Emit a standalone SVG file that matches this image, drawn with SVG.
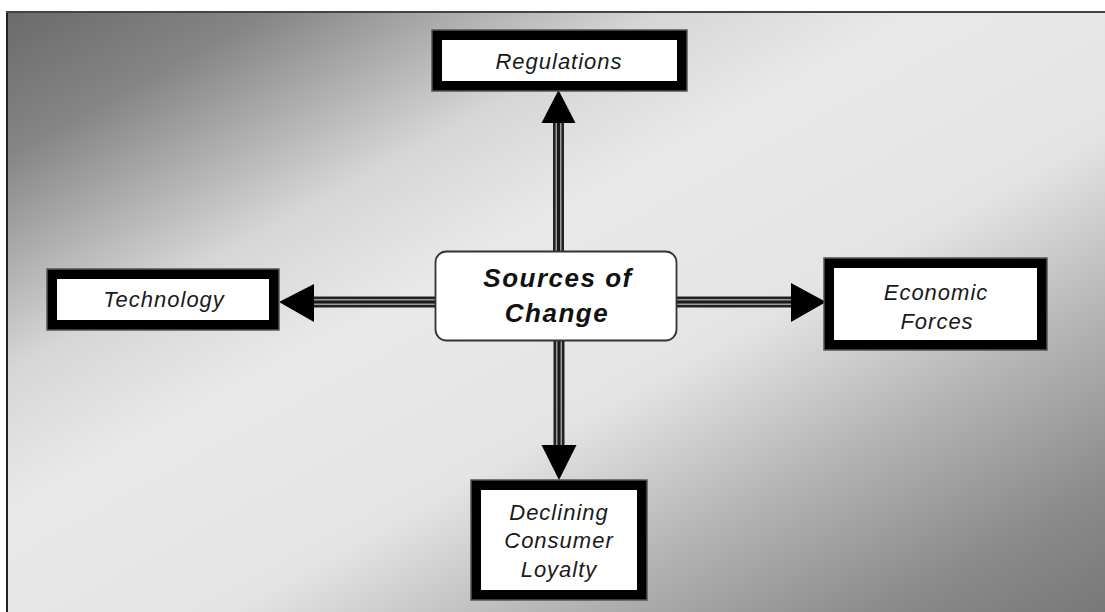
<svg xmlns="http://www.w3.org/2000/svg" width="1105" height="612" viewBox="0 0 1105 612">
  <defs>
    <linearGradient id="bg" x1="0" y1="0" x2="1" y2="1">
      <stop offset="0" stop-color="#6a6a6a"/>
      <stop offset="0.12" stop-color="#858585"/>
      <stop offset="0.3" stop-color="#d6d6d6"/>
      <stop offset="0.42" stop-color="#e9e9e9"/>
      <stop offset="0.6" stop-color="#e4e4e4"/>
      <stop offset="0.75" stop-color="#b4b4b4"/>
      <stop offset="0.9" stop-color="#8a8a8a"/>
      <stop offset="1" stop-color="#787878"/>
    </linearGradient>
    <style>
      .box { fill: #ffffff; stroke: #000000; stroke-width: 10; }
      .boxedge { fill: none; stroke: #555555; stroke-width: 1.5; }
      .lbl { font-family: "Liberation Sans", Arial, sans-serif; font-style: italic; font-size: 22px; letter-spacing: 1px; fill: #1a1a1a; text-anchor: middle; }
      .ctr { font-family: "Liberation Sans", Arial, sans-serif; font-style: italic; font-weight: bold; font-size: 26px; letter-spacing: 1.5px; fill: #111111; text-anchor: middle; }
      .shaftA { stroke: #222222; stroke-width: 11; fill: none; }
      .shaftB { stroke: #9a9a9a; stroke-width: 6; fill: none; }
      .shaftC { stroke: #1a1a1a; stroke-width: 3; fill: none; }
      .head { fill: #000000; }
    </style>
  </defs>

  <rect x="0" y="0" width="1105" height="612" fill="#ffffff"/>
  <rect x="6" y="11" width="1099" height="601" fill="url(#bg)"/>
  <line x1="7" y1="11" x2="7" y2="612" stroke="#222222" stroke-width="2"/>
  <line x1="6" y1="12" x2="1105" y2="12" stroke="#444444" stroke-width="2"/>

  <g id="connectors">
    <!-- up -->
    <line class="shaftA" x1="558.5" y1="251" x2="558.5" y2="120"/>
    <line class="shaftB" x1="558.5" y1="251" x2="558.5" y2="120"/>
    <line class="shaftC" x1="558.5" y1="251" x2="558.5" y2="120"/>
    <polygon class="head" points="558.5,90 541.5,123 575.5,123"/>
    <!-- left -->
    <line class="shaftA" x1="435" y1="302" x2="311" y2="302"/>
    <line class="shaftB" x1="435" y1="302" x2="311" y2="302"/>
    <line class="shaftC" x1="435" y1="302" x2="311" y2="302"/>
    <polygon class="head" points="279,302 314,284 314,322"/>
    <!-- right -->
    <line class="shaftA" x1="677" y1="302" x2="794" y2="302"/>
    <line class="shaftB" x1="677" y1="302" x2="794" y2="302"/>
    <line class="shaftC" x1="677" y1="302" x2="794" y2="302"/>
    <polygon class="head" points="826,302 791,283 791,322"/>
    <!-- down -->
    <line class="shaftA" x1="559" y1="341" x2="559" y2="447"/>
    <line class="shaftB" x1="559" y1="341" x2="559" y2="447"/>
    <line class="shaftC" x1="559" y1="341" x2="559" y2="447"/>
    <polygon class="head" points="559,480 541.5,445 576.5,445"/>
  </g>

  <g id="center">
    <rect x="435.5" y="251.5" width="241" height="89" rx="11" ry="11" fill="#ffffff" stroke="#333333" stroke-width="1.8"/>
    <text class="ctr" x="558" y="287">Sources of</text>
    <text class="ctr" x="557" y="322">Change</text>
  </g>

  <g id="regulations">
    <rect class="box" x="437" y="35" width="245" height="51"/>
    <rect class="boxedge" x="432" y="30" width="255" height="61"/>
    <text class="lbl" x="559" y="69">Regulations</text>
  </g>

  <g id="technology">
    <rect class="box" x="52" y="274" width="222" height="51"/>
    <rect class="boxedge" x="47" y="269" width="232" height="61"/>
    <text class="lbl" x="164" y="307">Technology</text>
  </g>

  <g id="economic">
    <rect class="box" x="829" y="263" width="213" height="82"/>
    <rect class="boxedge" x="824" y="258" width="223" height="92"/>
    <text class="lbl" x="936" y="300">Economic</text>
    <text class="lbl" x="937" y="329">Forces</text>
  </g>

  <g id="declining">
    <rect class="box" x="476" y="485" width="166" height="110"/>
    <rect class="boxedge" x="471" y="480" width="176" height="120"/>
    <text class="lbl" x="559" y="520">Declining</text>
    <text class="lbl" x="559" y="548">Consumer</text>
    <text class="lbl" x="559" y="577">Loyalty</text>
  </g>
</svg>
